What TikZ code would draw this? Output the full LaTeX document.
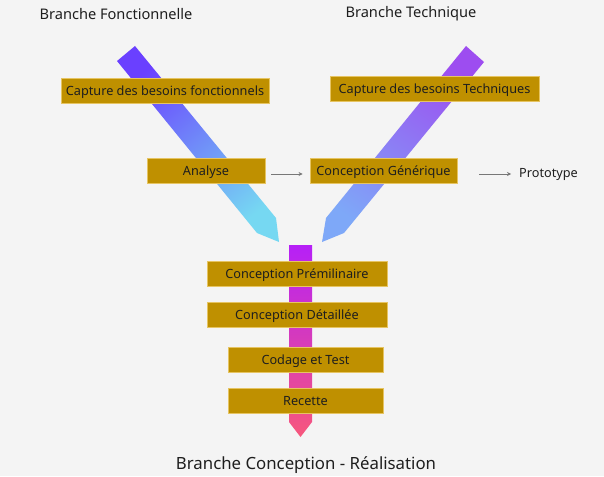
\documentclass[tikz,border=0pt]{standalone}
\usepackage{fontspec}
\setmainfont{Noto Sans}
\usepackage{tikz}
\usepackage{xcolor}
\usetikzlibrary{arrows.meta}
\definecolor{page-bg}{HTML}{F4F4F4}
\definecolor{box-gold}{HTML}{BF9000}
\definecolor{box-rim}{HTML}{E6C462}
\definecolor{ink}{HTML}{1E1E1E}
\definecolor{link-grey}{HTML}{777777}
\tikzset{
    phase-box/.style = {draw=box-rim, fill=box-gold, line width=0.8pt, rectangle, inner sep=0pt, minimum height=25pt, text height=10pt, text depth=0pt, text=ink, font=\fontsize{12.7}{14}\selectfont},
    branch-title/.style = {text=ink, inner sep=0pt, font=\fontsize{14.6}{18}\selectfont},
    flow-link/.style = {draw=link-grey, line width=0.8pt, -{Stealth[length=4pt,width=4pt]}},
}

\begin{document}
\begin{tikzpicture}[x=1pt,y=-1pt]
\fill[page-bg] (0,0) rectangle (604,476);
% the three branches of the Y
\shade[top color={rgb,255:red,106;green,64;blue,255}, bottom color={rgb,255:red,118;green,216;blue,242}, shading angle=39]
    (117,61) -- (135,46) -- (276,218) -- (279,242) -- (257,233) -- cycle;
\shade[top color={rgb,255:red,157;green,77;blue,240}, bottom color={rgb,255:red,126;green,168;blue,248}, shading angle=-36]
    (466,46) -- (484,62) -- (344,233) -- (322,242) -- (326,218) -- cycle;
\shade[top color={rgb,255:red,182;green,32;blue,247}, bottom color={rgb,255:red,247;green,87;blue,124}]
    (289,245) -- (312,245) -- (312,422) -- (300.5,437) -- (289,422) -- cycle;

\node[branch-title] (fonc) at (116,14) {Branche Fonctionnelle};
\node[branch-title] (tech) at (411,14) {Branche Technique};
\node[branch-title, font=\fontsize{16.8}{20}\selectfont] (real) at (306,465) {Branche Conception - Réalisation};

\node[phase-box, minimum width=208pt] (besoins-fonc) at (165,90.5) {Capture des besoins fonctionnels};
\node[phase-box, minimum width=118pt] (analyse) at (206,170.5) {Analyse};
\node[phase-box, minimum width=209pt] (besoins-tech) at (434.5,89) {Capture des besoins Techniques};
\node[phase-box, minimum width=147pt] (generique) at (383.5,170.5) {Conception Générique};
\node[text=ink, inner sep=0pt, font=\fontsize{12.7}{14}\selectfont, anchor=west] (prototype) at (519,174) {Prototype};

\node[phase-box, minimum width=180pt] (prelim) at (297,273.5) {Conception Prémilinaire};
\node[phase-box, minimum width=180pt] (detail) at (297,314.5) {Conception Détaillée};
\node[phase-box, minimum width=155pt] (codage) at (305.5,359.5) {Codage et Test};
\node[phase-box, minimum width=155pt] (recette) at (305.5,400.5) {Recette};

\draw[flow-link, shorten <=6pt, shorten >=7pt] ([yshift=-3.5pt]analyse.east) -- ([yshift=-3.5pt]generique.west);
\draw[flow-link, shorten <=22pt, shorten >=8pt] ([yshift=-3.5pt]generique.east) -- (prototype.west);
\end{tikzpicture}
\end{document}
